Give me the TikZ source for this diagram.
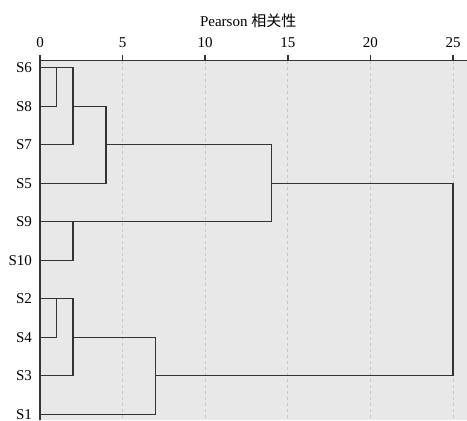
\documentclass[tikz,border=0pt]{standalone}
\usepackage{fontspec}
\setmainfont{Liberation Serif}
\newfontfamily\cjkfont{Noto Sans CJK SC}
\usetikzlibrary{positioning}

\definecolor{plotbg}{HTML}{E8E8E8}
\definecolor{gridgray}{HTML}{C6C6C6}
\definecolor{linegray}{HTML}{333333}

\begin{document}
\begin{tikzpicture}[x=16.52bp,y=-38.5bp,font=\fontsize{15bp}{18bp}\selectfont,
    link/.style={linegray, line width=1.2bp},
    spine/.style={linegray, line width=1.5bp},
    gridline/.style={gridgray, line width=0.9bp, dash pattern=on 3bp off 3bp},
    leaflabel/.style={anchor=east, inner sep=0pt},
    ticklabel/.style={inner sep=0pt}]
    \useasboundingbox (-2.4213,-1.7584) rectangle (25.847,9.1506);
    \fill[plotbg] (0,-0.182) rectangle (25.847,9.1506);
    % grid, ticks and axis
    \foreach \t in {5,10,...,25}
        \draw[gridline] (\t,-0.182) -- (\t,9.1506);
    \foreach \t in {0,5,...,25} {
        \draw[spine] (\t,-0.182) -- (\t,-0.33);
        \node[ticklabel] (tick\t) at (\t,-0.642) {\t};
    }
    \draw[spine] (0,-0.182) -- (25.847,-0.182);
    \draw[spine] (0,-0.182) -- (0,9.1506);
    \node[anchor=base] (title) at (12.6,-1.083) {Pearson {\cjkfont 相关性}};
    % leaves
    \foreach \name [count=\i from 0] in {S6,S8,S7,S5,S9,S10,S2,S4,S3,S1} {
        \node[leaflabel] (\name) at (-0.48,\i) {\name};
        \coordinate (l\name) at (0,\i);
    }
    % merge points
    \coordinate (m1) at (1,0);
    \coordinate (m2) at (2,1);
    \coordinate (m3) at (4,2);
    \coordinate (m4) at (2,4);
    \coordinate (m5) at (14,3);
    \coordinate (m6) at (1,6);
    \coordinate (m7) at (2,7);
    \coordinate (m8) at (7,8);
    \coordinate (m9) at (25,5.5);
    % links
    \draw[link] (lS6) -| (m1) |- (lS8);
    \draw[link] (m1) -| (m2) |- (lS7);
    \draw[link] (m2) -| (m3) |- (lS5);
    \draw[link] (lS9) -| (m4) |- (lS10);
    \draw[link] (m3) -| (m5) |- (m4);
    \draw[link] (lS2) -| (m6) |- (lS4);
    \draw[link] (m6) -| (m7) |- (lS3);
    \draw[link] (m7) -| (m8) |- (lS1);
    \draw[link] (m5) -| (m9) |- (m8);
\end{tikzpicture}
\end{document}
